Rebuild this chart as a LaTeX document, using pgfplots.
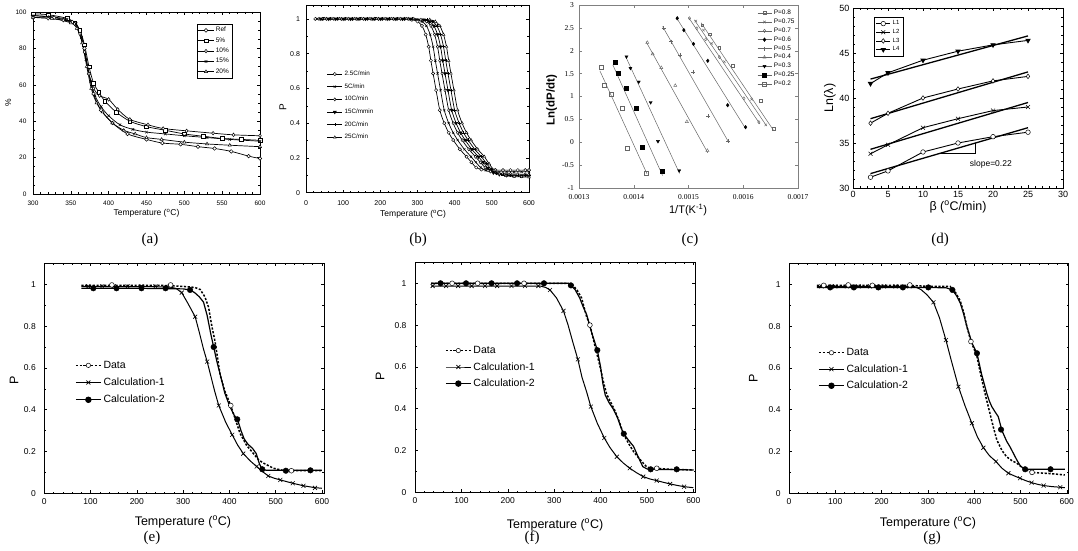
\documentclass[border=0pt]{standalone}
\usepackage{pgfplots}
\pgfplotsset{compat=1.18}
\usepackage{fontspec}
\setmainfont{Liberation Sans}
\newfontfamily\serif{Liberation Serif}
\newcommand{\fs}[1]{\fontsize{#1}{#1}\selectfont}
\pgfplotsset{
  base/.style={scale only axis, anchor=south west, tick align=inside,
    /pgf/number format/assume math mode=true,
    axis line style={line width=0.6pt},
    major tick length=3pt, minor tick length=1.6pt,
    every tick/.style={line width=0.5pt, black},
    legend cell align=left},
}
\begin{document}
\begin{tikzpicture}
\useasboundingbox (0pt,0pt) rectangle (1078pt,551pt);

% ---------------- (a) ----------------
\begin{axis}[base, at={(33pt,357pt)}, width=227pt, height=182pt,
  xmin=300, xmax=600, ymin=0, ymax=100,
  xtick={300,350,...,600}, ytick={0,20,40,60,80,100},
  minor x tick num=4, minor y tick num=3,
  tick label style={font=\fs{6.5}},
  xticklabel style={yshift=-3.5pt}, yticklabel style={xshift=-3pt},
  xlabel={Temperature (\textsuperscript{o}C)}, ylabel={\%},
  label style={font=\fs{8.5}},
  xlabel style={at={(axis description cs:0.5,-0.104)}, anchor=center},
  ylabel style={at={(axis description cs:-0.109,0.5)}, anchor=center},
  legend style={at={(0.722,0.934)}, anchor=north west, font=\fs{6.5}, draw=black, line width=0.5pt, inner sep=1pt, row sep=0.3pt},
  legend image code/.code={\draw[mark repeat=2,mark phase=2,#1] plot coordinates {(0pt,0pt) (7.5pt,0pt) (15pt,0pt)};},
  every axis plot/.append style={black, line width=0.7pt, mark size=1.8pt, mark options={fill=white, line width=0.5pt}},
]
\addplot[smooth, mark=*] coordinates {(300,98)(328,96.9)(352,94.5)(362,90)(368,80)(374,66)(380,55)(390,46)(405,39)(425,33)(450,30)(471,28)(495,27.3)(518,26)(540,25)(562,23.4)(585,20.8)(600,19.5)};
\addlegendentry{Ref}
\addplot[smooth, mark=square*] coordinates {(300,99)(320,98.5)(345,96.5)(355,94)(362,90)(368,82)(374,70)(380,61)(387,56)(395,51)(410,45)(428,40)(450,37)(475,35)(500,33)(525,31.7)(550,30.5)(575,30)(600,29.5)};
\addlegendentry{5\%}
\addplot[smooth, mark=diamond*] coordinates {(300,97)(320,96.5)(340,95.5)(355,93.5)(362,88)(368,78)(374,66)(380,58)(388,54)(400,52)(412,46.5)(428,41)(452,38)(472,36)(503,34.7)(538,33.4)(565,32.5)(600,32)};
\addlegendentry{10\%}
\addplot[smooth, mark=x] coordinates {(300,98)(322,97.5)(345,96)(357,93.5)(364,86)(370,74)(376,62)(382,54)(390,48)(400,43)(415,38)(432,35.5)(450,34)(475,33)(500,32)(530,31)(560,30)(600,29)};
\addlegendentry{15\%}
\addplot[smooth, mark=triangle*] coordinates {(300,97)(325,96.5)(350,94)(358,91)(365,83)(371,70)(377,58)(384,50)(392,45)(405,39)(420,35)(435,33)(450,31)(470,30)(500,28.5)(530,27.5)(560,26.8)(600,26)};
\addlegendentry{20\%}
\end{axis}

% ---------------- (b) ----------------
\begin{axis}[base, at={(306pt,358.3pt)}, width=223pt, height=187.7pt,
  xmin=0, xmax=600, ymin=0, ymax=1.08,
  xtick={0,100,...,600}, ytick={0,0.2,0.4,0.6,0.8,1},
  minor x tick num=4, minor y tick num=1,
  tick label style={font=\fs{7}},
  xticklabel style={yshift=-4pt}, yticklabel style={xshift=-2.5pt},
  xlabel={Temperature (\textsuperscript{o}C)}, ylabel={P},
  xlabel style={font=\fs{8.5}, at={(axis description cs:0.48,-0.115)}, anchor=center},
  ylabel style={font=\fs{10}, at={(axis description cs:-0.104,0.458)}, anchor=center},
  legend style={at={(0.093,0.66)}, anchor=north west, font=\fs{6.3}, draw=none, fill=none, inner sep=0pt, row sep=2.6pt},
  legend image code/.code={\draw[mark repeat=2,mark phase=2,#1] plot coordinates {(0pt,0pt) (7.5pt,0pt) (15pt,0pt)};},
  every axis plot/.append style={black, line width=0.7pt, mark size=1.6pt, mark options={fill=white, line width=0.45pt}},
]
\addplot[smooth, mark=*] coordinates {(25,1)(45,1)(65,1)(85,1)(105,1)(125,1)(145,1)(165,1)(185,1)(205,1)(225,1)(245,1)(265,1)(285,0.995)(300,0.985)(312,0.96)(322,0.91)(330,0.84)(336,0.76)(342,0.686)(350,0.59)(360,0.475)(372,0.40)(384,0.345)(396,0.303)(414,0.25)(432,0.207)(445,0.175)(458,0.145)(472,0.133)(490,0.13)(510,0.13)(530,0.13)(550,0.13)(570,0.13)(590,0.13)(600,0.13)};
\addlegendentry{2.5C/min}
\addplot[smooth, mark=x] coordinates {(30,1)(50,1)(70,1)(90,1)(110,1)(130,1)(150,1)(170,1)(190,1)(210,1)(230,1)(250,1)(270,1)(297,0.995)(312,0.985)(324,0.96)(334,0.91)(342,0.84)(348,0.76)(354,0.686)(362,0.59)(372,0.475)(384,0.40)(396,0.345)(408,0.303)(426,0.25)(444,0.207)(457,0.175)(470,0.145)(484,0.128)(500,0.122)(520,0.12)(540,0.12)(560,0.12)(580,0.12)(600,0.12)};
\addlegendentry{5C/min}
\addplot[smooth, mark=diamond*] coordinates {(35,1)(55,1)(75,1)(95,1)(115,1)(135,1)(155,1)(175,1)(195,1)(215,1)(235,1)(255,1)(275,1)(309,0.995)(324,0.985)(336,0.96)(346,0.91)(354,0.84)(360,0.76)(366,0.686)(374,0.59)(384,0.475)(396,0.40)(408,0.345)(420,0.303)(438,0.25)(456,0.207)(469,0.175)(482,0.145)(496,0.122)(512,0.112)(530,0.11)(550,0.108)(570,0.107)(590,0.106)(600,0.105)};
\addlegendentry{10C/min}
\addplot[smooth, mark=triangle*, mark options={rotate=180, fill=black}] coordinates {(40,1)(60,1)(80,1)(100,1)(120,1)(140,1)(160,1)(180,1)(200,1)(220,1)(240,1)(260,1)(280,1)(317,0.995)(332,0.985)(344,0.96)(354,0.91)(362,0.84)(368,0.76)(374,0.686)(382,0.59)(392,0.475)(404,0.40)(416,0.345)(428,0.303)(446,0.25)(464,0.207)(477,0.175)(490,0.14)(504,0.115)(520,0.105)(540,0.1)(560,0.098)(580,0.096)(600,0.095)};
\addlegendentry{15C/mmin}
\addplot[smooth, mark=+] coordinates {(45,1)(65,1)(85,1)(105,1)(125,1)(145,1)(165,1)(185,1)(205,1)(225,1)(245,1)(265,1)(285,1)(325,0.995)(340,0.985)(352,0.96)(362,0.91)(370,0.84)(376,0.76)(382,0.686)(390,0.59)(400,0.475)(412,0.40)(424,0.345)(436,0.303)(454,0.25)(472,0.207)(485,0.17)(498,0.135)(512,0.112)(530,0.103)(550,0.1)(570,0.1)(590,0.1)(600,0.1)};
\addlegendentry{20C/min}
\addplot[smooth, mark=triangle*] coordinates {(50,1)(70,1)(90,1)(110,1)(130,1)(150,1)(170,1)(190,1)(210,1)(230,1)(250,1)(270,1)(290,1)(333,0.995)(348,0.985)(360,0.96)(370,0.91)(378,0.84)(384,0.76)(390,0.686)(398,0.59)(408,0.475)(420,0.40)(432,0.345)(444,0.303)(462,0.25)(480,0.207)(493,0.165)(506,0.13)(520,0.108)(538,0.097)(560,0.093)(580,0.091)(600,0.09)};
\addlegendentry{25C/min}
\end{axis}

% ---------------- (c) ----------------
\begin{axis}[base, at={(579pt,363pt)}, width=219pt, height=183pt,
  xmin=0.0013, xmax=0.0017, ymin=-1, ymax=3,
  scaled x ticks=false, scaled y ticks=false,
  xtick={0.0013,0.0014,0.0015,0.0016,0.0017},
  xticklabels={0.0013,0.0014,0.0015,0.0016,0.0017},
  ytick={-1,-0.5,0,0.5,1,1.5,2,2.5,3},
  yticklabels={-1,-0.5,0,0.5,1,1.5,2,2.5,3},
  tick label style={font=\serif\fs{7.5}},
  xticklabel style={yshift=-2.5pt}, yticklabel style={xshift=-1.5pt},
  axis line style={gray, line width=0.5pt},
  every tick/.style={gray, line width=0.4pt},
  xlabel={1/T(K\textsuperscript{-1})}, ylabel={\textbf{Ln(dP/dt)}},
  xlabel style={font=\fs{11}, at={(axis description cs:0.498,-0.122)}, anchor=center},
  ylabel style={font=\fs{11.5}, at={(axis description cs:-0.125,0.48)}, anchor=center},
  legend style={at={(0.813,0.984)}, anchor=north west, font=\fs{6.5}, draw=none, fill=none, inner sep=0pt, row sep=-1.2pt},
  legend image code/.code={\draw[mark repeat=2,mark phase=2,#1] plot coordinates {(0pt,0pt) (7pt,0pt) (14pt,0pt)};},
  cl/.style={gray!80!black, line width=0.5pt},
]
\addlegendimage{cl, mark=square, mark size=1.4pt}\addlegendentry{P=0.8}
\addlegendimage{cl, mark=x, mark size=1.8pt}\addlegendentry{P=0.75}
\addlegendimage{cl, mark=diamond, mark size=1.6pt}\addlegendentry{P=0.7}
\addlegendimage{cl, mark=diamond*, mark size=1.8pt, mark options={black}}\addlegendentry{P=0.6}
\addlegendimage{cl, mark=+, mark size=2pt}\addlegendentry{P=0.5}
\addlegendimage{cl, mark=triangle, mark size=1.8pt}\addlegendentry{P=0.4}
\addlegendimage{cl, mark=triangle*, mark size=1.8pt, mark options={rotate=180, black}}\addlegendentry{P=0.3}
\addlegendimage{cl, mark=square*, mark size=2pt, mark options={black}}\addlegendentry{P=0.25}
\addlegendimage{cl, mark=square, mark size=2pt}\addlegendentry{P=0.2}
% lines
\addplot[cl, forget plot] coordinates {(0.001523,2.61)(0.0016558,0.25)};
\addplot[cl, forget plot] coordinates {(0.0015109,2.67)(0.0016424,0.36)};
\addplot[cl, forget plot] coordinates {(0.0015,2.73)(0.0016303,0.40)};
\addplot[cl, forget plot] coordinates {(0.0014776,2.73)(0.0016042,0.30)};
\addplot[cl, forget plot] coordinates {(0.0014527,2.53)(0.0015739,-0.01)};
\addplot[cl, forget plot] coordinates {(0.0014224,2.20)(0.0015352,-0.23)};
\addplot[cl, forget plot] coordinates {(0.0013848,1.885)(0.0014836,-0.68)};
\addplot[cl, forget plot] coordinates {(0.0013618,1.69)(0.0014527,-0.73)};
\addplot[cl, forget plot] coordinates {(0.0013382,1.56)(0.0014242,-0.69)};
% points
\addplot[only marks, gray!80!black, mark=square, mark size=1.4pt, mark options={fill=white}, forget plot] coordinates {(0.001525,2.56)(0.001539,2.36)(0.001556,2.07)(0.00158,1.67)(0.001632,0.91)(0.001656,0.29)};
\addplot[only marks, gray!80!black, mark=x, mark size=1.8pt, forget plot] coordinates {(0.0015133,2.65)(0.0015273,2.45)(0.0015424,2.16)(0.0015655,1.76)(0.0016152,0.94)(0.0016412,0.38)};
\addplot[only marks, gray!80!black, mark=diamond, mark size=1.6pt, forget plot] coordinates {(0.0015018,2.71)(0.0015152,2.49)(0.0015315,2.25)(0.0015564,1.86)(0.0016012,0.96)(0.0016285,0.44)};
\addplot[only marks, black, mark=diamond*, mark size=1.8pt, forget plot] coordinates {(0.0014794,2.71)(0.0014915,2.45)(0.0015091,2.15)(0.0015352,1.78)(0.0015715,0.81)(0.0016042,0.33)};
\addplot[only marks, gray!80!black, mark=+, mark size=2pt, forget plot] coordinates {(0.0014545,2.49)(0.0014679,2.2)(0.0014842,1.91)(0.0015091,1.54)(0.0015364,0.57)(0.0015727,0.03)};
\addplot[only marks, gray!80!black, mark=triangle, mark size=1.8pt, forget plot] coordinates {(0.0014248,2.18)(0.0014345,1.93)(0.0014503,1.63)(0.0014758,1.24)(0.001497,0.45)(0.0015345,-0.18)};
\addplot[only marks, black, mark=triangle*, mark size=1.8pt, mark options={rotate=180}, forget plot] coordinates {(0.0013867,1.87)(0.0013939,1.62)(0.0014091,1.32)(0.0014309,0.87)(0.0014442,0.02)(0.001483,-0.62)};
\addplot[only marks, black, mark=square*, mark size=2pt, forget plot] coordinates {(0.0013655,1.75)(0.0013709,1.51)(0.0013861,1.19)(0.0014048,0.75)(0.0014158,-0.11)(0.0014515,-0.64)};
\addplot[only marks, gray!80!black, mark=square, mark size=2pt, forget plot] coordinates {(0.0013406,1.65)(0.0013455,1.24)(0.0013594,1.06)(0.0013788,0.74)(0.0013879,-0.13)(0.0014224,-0.67)};
\end{axis}

% ---------------- (d) ----------------
\begin{axis}[base, at={(853pt,363pt)}, width=210pt, height=180pt,
  xmin=0, xmax=30, ymin=30, ymax=50,
  xtick={0,5,...,30}, ytick={30,35,...,50},
  minor x tick num=4, minor y tick num=4,
  tick label style={font=\fs{9}},
  xlabel={β (\textsuperscript{o}C/min)}, ylabel={Ln(λ)},
  label style={font=\fs{12.5}},
  xlabel style={at={(axis description cs:0.5,-0.106)}, anchor=center},
  ylabel style={at={(axis description cs:-0.11,0.5)}, anchor=center},
  legend style={at={(0.1,0.95)}, anchor=north west, font=\fs{6}, draw=black, line width=0.6pt, inner sep=1.5pt, row sep=-1pt},
  legend image code/.code={\draw[mark repeat=2,mark phase=2,#1] plot coordinates {(0pt,0pt) (7pt,0pt) (14pt,0pt)};},
  every axis plot/.append style={black, line width=0.9pt, mark size=2.3pt, mark options={fill=white, line width=0.5pt}},
]
\addplot[mark=*] coordinates {(2.5,31.2)(5,31.9)(10,34.0)(15,35.0)(20,35.7)(25,36.2)};
\addlegendentry{L1}
\addplot[mark=x, mark size=2.8pt] coordinates {(2.5,33.8)(5,34.8)(10,36.7)(15,37.7)(20,38.6)(25,39.0)};
\addlegendentry{L2}
\addplot[mark=diamond*] coordinates {(2.5,37.2)(5,38.3)(10,40.0)(15,41.0)(20,41.9)(25,42.4)};
\addlegendentry{L3}
\addplot[mark=triangle*, mark options={rotate=180}] coordinates {(2.5,41.6)(5,42.8)(10,44.2)(15,45.2)(20,45.9)(25,46.4)};
\addlegendentry{L4}
\addplot[line width=1.3pt, forget plot] coordinates {(2.5,31.6)(25,36.7)};
\addplot[line width=1.3pt, forget plot] coordinates {(2.5,34.3)(25,39.5)};
\addplot[line width=1.3pt, forget plot] coordinates {(2.5,37.7)(25,42.9)};
\addplot[line width=1.3pt, forget plot] coordinates {(2.5,42.1)(25,46.9)};
\addplot[line width=0.9pt, forget plot] coordinates {(12.2,33.8)(17.5,33.8)(17.5,35.05)};
\node[anchor=west, font=\fs{8.5}] at (axis cs:16.2,32.6) {slope=0.22};
\end{axis}

% ---------------- (e) ----------------
\begin{axis}[base, at={(44.3pt,57.7pt)}, width=279.5pt, height=229.9pt,
  xmin=0, xmax=604, ymin=0, ymax=1.1,
  xtick={0,100,...,600}, ytick={0,0.2,0.4,0.6,0.8,1},
  minor x tick num=4, minor y tick num=1,
  tick label style={font=\fs{8.5}},
  xticklabel style={yshift=-2pt}, yticklabel style={xshift=-5pt},
  xlabel={Temperature (\textsuperscript{o}C)}, ylabel={P},
  label style={font=\fs{12.5}},
  xlabel style={at={(axis description cs:0.496,-0.125)}, anchor=center},
  ylabel style={at={(axis description cs:-0.108,0.493)}, anchor=center},
  legend style={at={(0.11,0.585)}, anchor=north west, font=\fs{10.5}, draw=none, fill=none, inner sep=0pt, row sep=4.2pt},
  legend image code/.code={\draw[mark repeat=2,mark phase=2,#1] plot coordinates {(0pt,0pt) (12.5pt,0pt) (25pt,0pt)};},
]
\addlegendimage{black, dashed, dash pattern=on 2.2pt off 1.6pt, line width=1.3pt, mark=*, mark size=2.2pt, mark options={solid, fill=white, line width=0.5pt}}\addlegendentry{Data}
\addlegendimage{black, line width=0.8pt, mark=x, mark size=2.8pt, mark options={line width=0.6pt}}\addlegendentry{Calculation-1}
\addlegendimage{black, line width=0.8pt, mark=*, mark size=2.8pt}\addlegendentry{Calculation-2}
\addplot[black, line width=1pt, forget plot] coordinates {(80,0.99)(270,0.988)(285,0.98)(297,0.96)(310,0.91)(326,0.845)(335,0.77)(344,0.69)(352,0.63)(360,0.56)(368,0.49)(377,0.42)(392,0.34)(406,0.28)(418,0.23)(430,0.19)(445,0.155)(459,0.128)(472,0.103)(484,0.083)(497,0.072)(510,0.064)(537,0.048)(560,0.036)(585,0.027)(600,0.024)};
\addplot[black, line width=1.2pt, forget plot] coordinates {(80,0.981)(200,0.981)(300,0.978)(315,0.973)(325,0.96)(335,0.94)(344,0.915)(352,0.85)(360,0.76)(366,0.70)(373,0.63)(380,0.57)(390,0.48)(401,0.415)(410,0.375)(418,0.35)(425,0.3)(432,0.26)(440,0.235)(450,0.215)(458,0.19)(465,0.14)(471,0.115)(480,0.11)(600,0.11)};
\addplot[black, dash pattern=on 2.2pt off 1.6pt, line width=1.5pt, forget plot] coordinates {(80,0.995)(150,0.995)(250,0.995)(300,0.99)(325,0.985)(337,0.975)(347,0.94)(355,0.89)(362,0.80)(369,0.726)(375,0.64)(380,0.566)(390,0.49)(401,0.43)(412,0.36)(423,0.287)(437,0.23)(452,0.19)(463,0.16)(474,0.144)(495,0.12)(515,0.11)(531,0.108)(600,0.108)};
\addplot[only marks, black, mark=x, mark size=2.8pt, mark options={line width=0.6pt}, forget plot] coordinates {(95,0.99)(125,0.99)(150,0.99)(180,0.99)(210,0.99)(240,0.99)(270,0.988)(297,0.96)(326,0.845)(352,0.63)(377,0.42)(406,0.28)(430,0.19)(459,0.128)(484,0.083)(510,0.064)(537,0.048)(560,0.036)(585,0.026)};
\addplot[only marks, black, mark=*, mark size=2.8pt, forget plot] coordinates {(106,0.981)(156,0.981)(210,0.981)(262,0.981)(315,0.973)(366,0.70)(417,0.354)(471,0.115)(522,0.108)(575,0.11)};
\addplot[only marks, black, mark=*, mark size=2.4pt, mark options={fill=white, line width=0.5pt}, forget plot] coordinates {(146,0.997)(273,0.997)(403,0.42)(534,0.108)};
\end{axis}

% ---------------- (f) ----------------
\begin{axis}[base, at={(415pt,58.7pt)}, width=280.2pt, height=229.9pt,
  xmin=0, xmax=604, ymin=0, ymax=1.1,
  xtick={0,100,...,600}, ytick={0,0.2,0.4,0.6,0.8,1},
  minor x tick num=4, minor y tick num=1,
  tick label style={font=\fs{8.5}},
  xticklabel style={yshift=-2pt}, yticklabel style={xshift=-5pt},
  xlabel={Temperature (\textsuperscript{o}C)}, ylabel={P},
  label style={font=\fs{12.5}},
  xlabel style={at={(axis description cs:0.5,-0.142)}, anchor=center},
  ylabel style={at={(axis description cs:-0.125,0.506)}, anchor=center},
  legend style={at={(0.107,0.645)}, anchor=north west, font=\fs{10.5}, draw=none, fill=none, inner sep=0pt, row sep=3.5pt},
  legend image code/.code={\draw[mark repeat=2,mark phase=2,#1] plot coordinates {(0pt,0pt) (12.5pt,0pt) (25pt,0pt)};},
]
\addlegendimage{black, dash pattern=on 2.2pt off 1.6pt, line width=1.3pt, mark=*, mark size=2.2pt, mark options={solid, fill=white, line width=0.5pt}}\addlegendentry{Data}
\addlegendimage{black, line width=0.8pt, mark=x, mark size=2.8pt, mark options={line width=0.6pt}}\addlegendentry{Calculation-1}
\addlegendimage{black, line width=0.8pt, mark=*, mark size=2.8pt}\addlegendentry{Calculation-2}
\addplot[black, line width=1pt, forget plot] coordinates {(35,0.987)(270,0.987)(282,0.98)(291,0.968)(305,0.93)(320,0.868)(330,0.80)(340,0.72)(351,0.636)(360,0.55)(370,0.48)(379,0.41)(393,0.33)(408,0.26)(420,0.215)(435,0.17)(449,0.14)(463,0.115)(478,0.093)(492,0.075)(506,0.064)(521,0.056)(535,0.048)(550,0.04)(565,0.033)(580,0.027)(600,0.022)};
\addplot[black, line width=1.2pt, forget plot] coordinates {(35,1.0)(330,1.0)(336,0.99)(345,0.97)(355,0.93)(362,0.89)(370,0.85)(380,0.77)(393,0.68)(400,0.60)(405,0.52)(410,0.466)(418,0.43)(427,0.40)(436,0.36)(444,0.31)(450,0.28)(460,0.25)(471,0.22)(481,0.17)(491,0.123)(500,0.112)(508,0.11)(600,0.107)};
\addplot[black, dash pattern=on 2.2pt off 1.6pt, line width=1.5pt, forget plot] coordinates {(35,1.0)(330,1.0)(341,0.99)(350,0.965)(359,0.93)(370,0.84)(377,0.80)(388,0.70)(399,0.60)(406,0.53)(413,0.47)(422,0.43)(431,0.39)(440,0.34)(449,0.28)(460,0.235)(471,0.195)(480,0.17)(489,0.147)(498,0.125)(506,0.115)(521,0.115)(550,0.11)(600,0.107)};
\addplot[only marks, black, mark=x, mark size=2.8pt, mark options={line width=0.6pt}, forget plot] coordinates {(38,0.987)(67,0.987)(93,0.987)(122,0.987)(151,0.987)(177,0.987)(208,0.987)(237,0.987)(266,0.987)(291,0.968)(320,0.868)(351,0.636)(379,0.41)(408,0.26)(435,0.17)(463,0.115)(492,0.075)(521,0.056)(550,0.04)(580,0.027)};
\addplot[only marks, black, mark=*, mark size=2.8pt, forget plot] coordinates {(55,1.0)(110,1.0)(165,1.0)(220,1.0)(278,1.0)(336,0.99)(393,0.68)(450,0.28)(508,0.11)(564,0.11)};
\addplot[only marks, black, mark=*, mark size=2.4pt, mark options={fill=white, line width=0.5pt}, forget plot] coordinates {(80,1.0)(135,1.0)(235,1.0)(377,0.80)(521,0.115)};
\end{axis}

% ---------------- (g) ----------------
\begin{axis}[base, at={(789pt,57.7pt)}, width=279.6pt, height=229.9pt,
  xmin=0, xmax=604, ymin=0, ymax=1.1,
  xtick={0,100,...,600}, ytick={0,0.2,0.4,0.6,0.8,1},
  minor x tick num=4, minor y tick num=1,
  tick label style={font=\fs{8.5}},
  xticklabel style={yshift=-2pt}, yticklabel style={xshift=-5pt},
  xlabel={Temperature (\textsuperscript{o}C)}, ylabel={P},
  label style={font=\fs{12.5}},
  xlabel style={at={(axis description cs:0.497,-0.129)}, anchor=center},
  ylabel style={at={(axis description cs:-0.128,0.5)}, anchor=center},
  legend style={at={(0.104,0.64)}, anchor=north west, font=\fs{10.5}, draw=none, fill=none, inner sep=0pt, row sep=3.5pt},
  legend image code/.code={\draw[mark repeat=2,mark phase=2,#1] plot coordinates {(0pt,0pt) (12.5pt,0pt) (25pt,0pt)};},
]
\addlegendimage{black, dash pattern=on 2.2pt off 1.6pt, line width=1.3pt, mark=*, mark size=2.2pt, mark options={solid, fill=white, line width=0.5pt}}\addlegendentry{Data}
\addlegendimage{black, line width=0.8pt, mark=x, mark size=2.8pt, mark options={line width=0.6pt}}\addlegendentry{Calculation-1}
\addlegendimage{black, line width=0.8pt, mark=*, mark size=2.8pt}\addlegendentry{Calculation-2}
\addplot[black, line width=1pt, forget plot] coordinates {(60,0.99)(270,0.99)(285,0.975)(298,0.95)(312,0.914)(325,0.84)(339,0.733)(350,0.64)(366,0.51)(380,0.42)(395,0.335)(407,0.27)(420,0.218)(433,0.18)(447,0.152)(460,0.12)(474,0.096)(487,0.083)(499,0.072)(512,0.06)(524,0.051)(537,0.043)(550,0.037)(568,0.032)(586,0.029)(596,0.027)};
\addplot[black, line width=1.2pt, forget plot] coordinates {(60,0.985)(300,0.985)(340,0.983)(353,0.973)(362,0.945)(370,0.91)(377,0.86)(384,0.80)(395,0.72)(406,0.67)(416,0.57)(427,0.48)(433,0.44)(438,0.415)(445,0.39)(452,0.367)(460,0.30)(470,0.25)(478,0.22)(485,0.19)(492,0.16)(500,0.13)(510,0.115)(596,0.115)};
\addplot[black, dash pattern=on 2.2pt off 1.6pt, line width=1.5pt, forget plot] coordinates {(60,0.995)(260,0.995)(300,0.99)(348,0.99)(360,0.96)(370,0.92)(378,0.86)(384,0.80)(393,0.726)(400,0.69)(406,0.654)(413,0.58)(420,0.51)(427,0.445)(434,0.383)(441,0.32)(449,0.255)(460,0.205)(470,0.175)(481,0.157)(492,0.144)(500,0.13)(510,0.115)(525,0.10)(560,0.095)(596,0.088)};
\addplot[only marks, black, mark=x, mark size=2.8pt, mark options={line width=0.6pt}, forget plot] coordinates {(70,0.99)(100,0.99)(125,0.99)(150,0.99)(175,0.99)(205,0.99)(230,0.99)(260,0.99)(312,0.914)(339,0.733)(366,0.51)(395,0.335)(420,0.218)(447,0.152)(474,0.096)(499,0.072)(524,0.051)(550,0.037)(586,0.029)};
\addplot[only marks, black, mark=*, mark size=2.8pt, forget plot] coordinates {(89,0.985)(140,0.985)(193,0.985)(246,0.985)(301,0.985)(353,0.973)(406,0.67)(458,0.305)(510,0.115)(565,0.115)};
\addplot[only marks, black, mark=*, mark size=2.4pt, mark options={fill=white, line width=0.5pt}, forget plot] coordinates {(75,0.995)(128,0.997)(180,0.995)(261,0.997)(393,0.726)(525,0.10)};
\end{axis}

% captions
\node[font=\serif\fs{15}] at (150pt,311pt) {(a)};
\node[font=\serif\fs{15}] at (418pt,311pt) {(b)};
\node[font=\serif\fs{15}] at (690pt,311pt) {(c)};
\node[font=\serif\fs{15}] at (940pt,311pt) {(d)};
\node[font=\serif\fs{15}] at (152pt,13pt) {(e)};
\node[font=\serif\fs{15}] at (532pt,13pt) {(f)};
\node[font=\serif\fs{15}] at (932pt,13pt) {(g)};
\end{tikzpicture}
\end{document}
